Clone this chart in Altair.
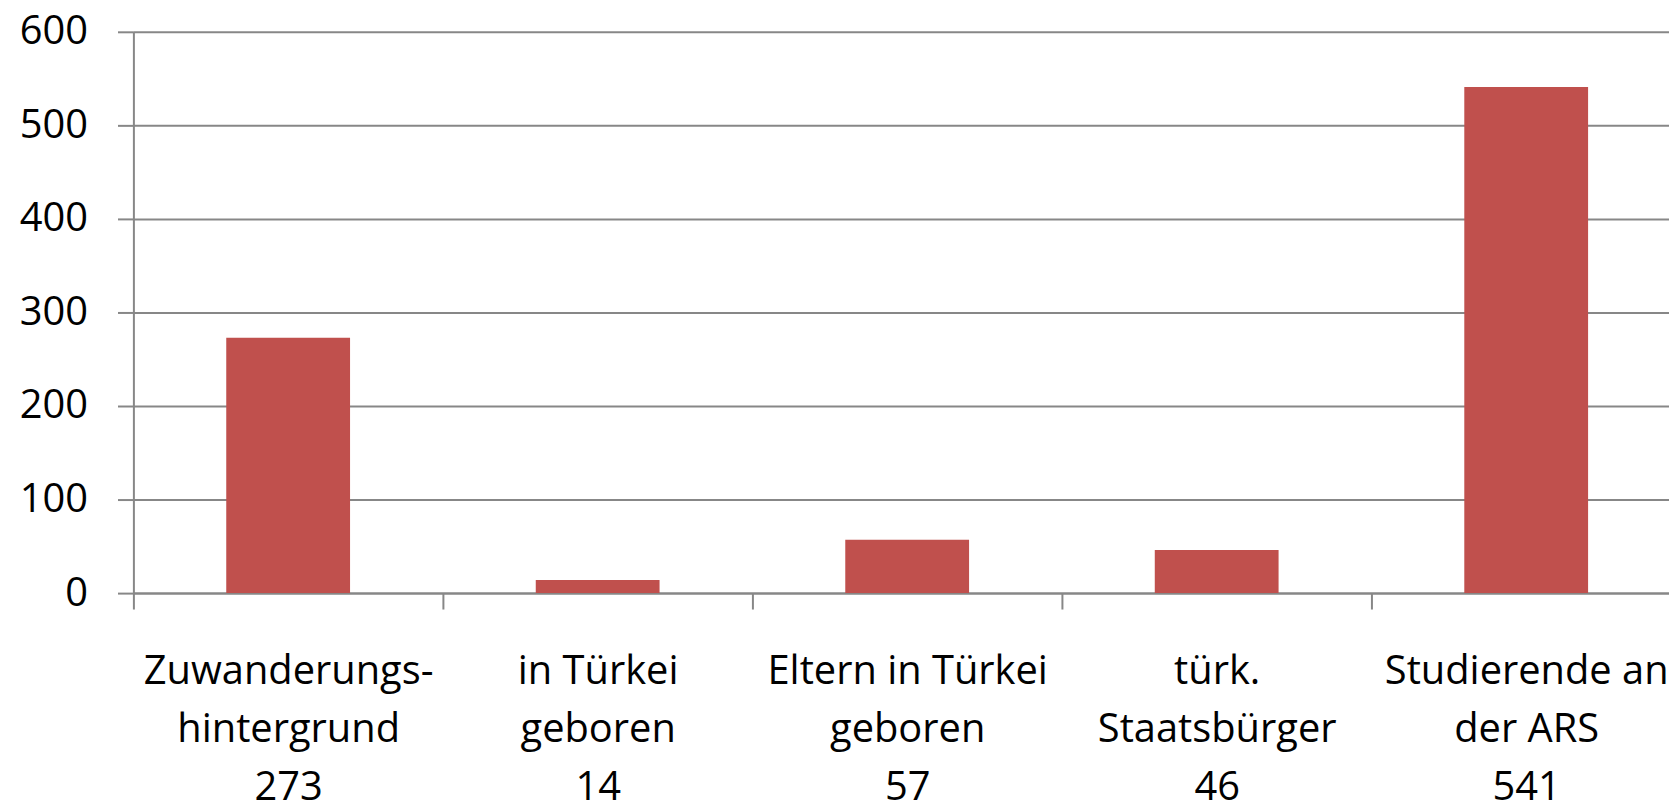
import altair as alt
import pandas as pd

categories = [
    "Zuwanderungs-|hintergrund",
    "in Türkei|geboren",
    "Eltern in Türkei|geboren",
    "türk.|Staatsbürger",
    "Studierende an|der ARS",
]
values = [273, 14, 57, 46, 541]
y_ticks = [0, 100, 200, 300, 400, 500, 600]

df = pd.DataFrame({
    "label": [f"{c}|{v}" for c, v in zip(categories, values)],
    "value": values,
})

GRAY = "#878787"
FONT = "Open Sans"

chart = (
    alt.Chart(df)
    .mark_bar(color="#C0504D", width=alt.RelativeBandSize(0.4))
    .encode(
        x=alt.X(
            "label:N",
            sort=None,
            title=None,
            scale=alt.Scale(range=[0, 1555], paddingInner=0, paddingOuter=0),
            axis=alt.Axis(
                labelExpr="split(datum.label, '|')",
                labelAngle=0,
                labelAlign="center",
                labelBaseline="top",
                labelFont=FONT,
                labelFontSize=40,
                labelColor="#000000",
                labelLineHeight=58,
                labelPadding=43,
                labelLimit=600,
                labelOverlap=False,
                labelFlush=False,
                tickBand="extent",
                tickSize=16,
                tickColor=GRAY,
                tickWidth=2,
                domainColor=GRAY,
                domainWidth=2,
                grid=False,
            ),
        ),
        y=alt.Y(
            "value:Q",
            title=None,
            scale=alt.Scale(domain=[0, 600], nice=False),
            axis=alt.Axis(
                values=y_ticks,
                labelFont=FONT,
                labelFontSize=40,
                labelColor="#000000",
                labelPadding=30,
                tickSize=16,
                tickColor=GRAY,
                tickWidth=2,
                domainColor=GRAY,
                domainWidth=2,
                grid=True,
                gridColor=GRAY,
                gridWidth=2,
            ),
        ),
    )
    .properties(
        width=1543,
        height=564,
        autosize=alt.AutoSizeParams(type="none"),
        padding={"left": 126, "top": 22, "right": 0, "bottom": 212},
    )
    .configure_view(stroke=None)
)

chart.save("out.html", embed_options={"renderer": "svg", "actions": False})
